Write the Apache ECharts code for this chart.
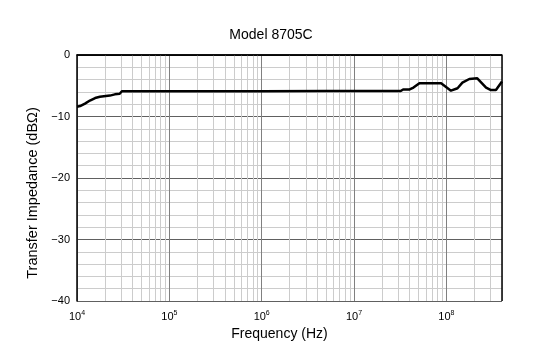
<!DOCTYPE html>
<html><head><meta charset="utf-8">
<script src="https://cdn.jsdelivr.net/npm/echarts@6/dist/echarts.min.js"></script>
<style>html,body{margin:0;padding:0;background:#fff}#c{width:554px;height:357px}</style>
</head><body><div id="c"></div>
<script>
var title = "Model 8705C";
var xName = "Frequency (Hz)";
var yName = "Transfer Impedance (dB\u03a9)";
var freqs = [1e4, 1.08e4, 1.22e4, 1.38e4, 1.57e4, 1.77e4, 2.27e4, 2.57e4, 2.9e4, 3.06e4, 1e5, 1e6, 5e6, 2.5e7, 3.2e7, 3.4e7, 4.0e7, 4.4e7, 5.1e7, 8.77e7, 1.12e8, 1.32e8, 1.49e8, 1.77e8, 2.16e8, 2.69e8, 3.04e8, 3.44e8, 4e8];
var impedance = [-8.4, -8.3, -7.9, -7.4, -7.0, -6.8, -6.6, -6.4, -6.3, -5.9, -5.9, -5.9, -5.85, -5.85, -5.85, -5.6, -5.6, -5.3, -4.6, -4.6, -5.8, -5.4, -4.5, -3.9, -3.8, -5.3, -5.7, -5.7, -4.3];
var minorFreqs = [];
[1e4, 1e5, 1e6, 1e7, 1e8].forEach(function (d) {
  for (var k = 2; k <= 9; k++) { if (d * k <= 4e8) minorFreqs.push(d * k); }
});
var xMin = 1e4, xMax = 4e8, yMin = -40, yMax = 0;
var FONT = 'Liberation Sans, Arial, sans-serif';

var chart = echarts.init(document.getElementById('c'));
chart.setOption({
  animation: false,
  title: { text: title, left: 266, textAlign: 'center', top: 23, textStyle: { fontFamily: FONT, fontSize: 14, fontWeight: 'normal', color: '#000' } },
  grid: { left: 77, right: 52, top: 55, bottom: 56 },
  xAxis: {
    type: 'log', logBase: 10, min: xMin, max: xMax,
    name: xName, nameLocation: 'middle', nameGap: 26,
    nameTextStyle: { fontFamily: FONT, fontSize: 14, color: '#000', padding: [0, 20, 0, 0] },
    axisLine: { show: true, lineStyle: { color: '#000', width: 1.5 } },
    axisTick: { show: false },
    splitLine: { show: true, lineStyle: { color: '#808080', width: 1 } },
    axisLabel: {
      margin: 9, color: '#000', showMaxLabel: false,
      formatter: function (v) { var e = Math.round(Math.log10(v)); return '{b|10}{s|' + e + '}'; },
      rich: { b: { fontFamily: FONT, fontSize: 11, color: '#000' }, s: { fontFamily: FONT, fontSize: 7, color: '#000', verticalAlign: 'top', padding: [0, 0, 6, 0] } }
    }
  },
  yAxis: {
    type: 'value', min: yMin, max: yMax, interval: 10,
    name: yName, nameLocation: 'middle', nameGap: 31, nameRotate: 90,
    nameTextStyle: { fontFamily: FONT, fontSize: 14.5, color: '#000', padding: [0, 30, 0, 0] },
    axisLine: { show: true, lineStyle: { color: '#000', width: 1.5 } },
    axisTick: { show: false },
    axisLabel: { fontFamily: FONT, fontSize: 11, color: '#000', margin: 7, formatter: function (v) { return String(v).replace('-', '\u2212'); } },
    splitLine: { show: true, lineStyle: { color: '#606060', width: 1 } },
    minorTick: { show: false, splitNumber: 5 },
    minorSplitLine: { show: true, lineStyle: { color: '#cccccc', width: 1 } }
  },
  series: [
    {
      type: 'line', data: [], silent: true, z: 1,
      markLine: {
        silent: true, symbol: ['none', 'none'], label: { show: false },
        lineStyle: { color: '#cccccc', width: 1, type: 'solid' },
        data: minorFreqs.map(function (f) { return { xAxis: f }; })
      }
    },
    {
      type: 'line', data: [], silent: true, z: 1,
      markLine: {
        silent: true, symbol: ['none', 'none'], label: { show: false },
        lineStyle: { color: '#000', width: 1.5, type: 'solid' },
        data: [{ xAxis: xMax }, { yAxis: yMax }]
      }
    },
    {
      type: 'line', z: 5, showSymbol: false, symbol: 'none',
      lineStyle: { color: '#000', width: 2.5 },
      data: freqs.map(function (f, i) { return [f, impedance[i]]; })
    }
  ]
});
</script></body></html>
